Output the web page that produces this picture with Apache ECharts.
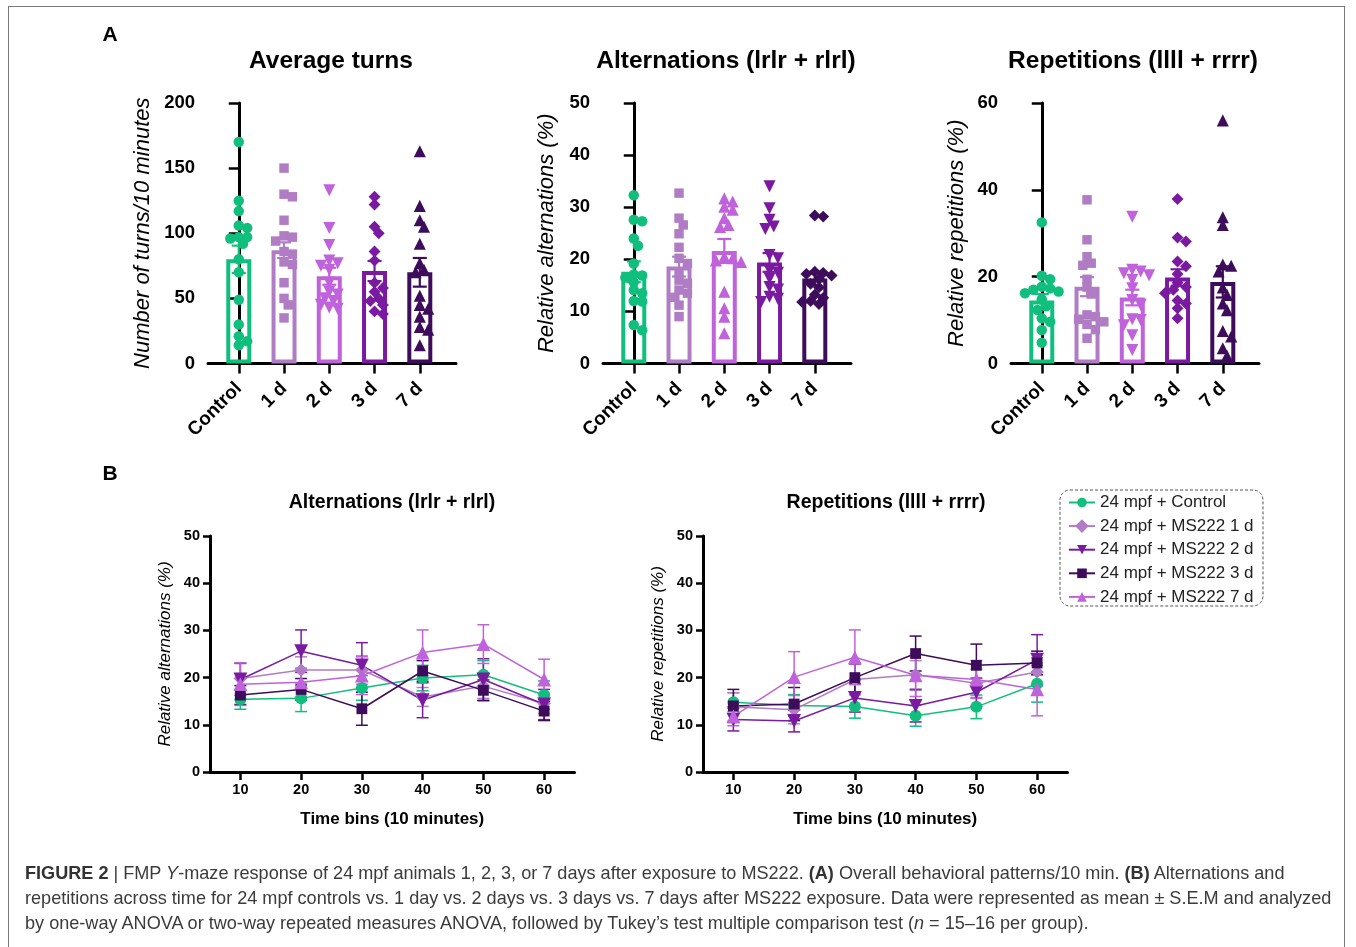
<!DOCTYPE html>
<html>
<head>
<meta charset="utf-8">
<script src="https://cdn.jsdelivr.net/npm/echarts@6/dist/echarts.min.js"></script>
<style>
  html, body { margin: 0; padding: 0; background: #fff; }
  #frame { position: absolute; left: 8px; top: 6px; width: 1337px; height: 1000px; border: 1px solid #7a7a7a; box-sizing: border-box; }
  #chart { position: absolute; left: 0; top: 0; width: 1356px; height: 947px; }
  #caption { position: absolute; left: 25px; top: 861px; font-family: "Liberation Sans", Arial, sans-serif; font-size: 18.1px; line-height: 25px; color: #3b3b3b; white-space: nowrap; }
  #caption b { color: #333; }
</style>
</head>
<body>
<div id="frame"></div>
<div id="chart"></div>
<div id="caption">
  <b>FIGURE 2</b> | FMP <i>Y</i>-maze response of 24 mpf animals 1, 2, 3, or 7 days after exposure to MS222. <b>(A)</b> Overall behavioral patterns/10 min. <b>(B)</b> Alternations and<br>
  repetitions across time for 24 mpf controls vs. 1 day vs. 2 days vs. 3 days vs. 7 days after MS222 exposure. Data were represented as mean ± S.E.M and analyzed<br>
  by one-way ANOVA or two-way repeated measures ANOVA, followed by Tukey’s test multiple comparison test (<i>n</i> = 15–16 per group).
</div>
<script>
// 分组
var groups = ['Control', '1 d', '2 d', '3 d', '7 d']

// A: Average turns
var turnsPoints = [
  [170, 125, 117, 106, 104, 97, 97, 96, 92, 80, 70, 49, 30, 21, 17, 14],
  [150, 130, 128, 110, 98, 97, 94, 86, 84, 78, 76, 62, 50, 45, 35],
  [133, 104, 91, 79, 77, 75, 72, 62, 55, 53, 50, 48, 45, 43, 42],
  [128, 122, 105, 100, 86, 79, 62, 58, 55, 50, 48, 45, 40, 38],
  [163, 121, 110, 105, 92, 77, 72, 70, 52, 45, 42, 36, 28, 26, 14]
]
var turnsMean = [80, 87, 67, 71, 70]
var turnsSem = [10.5, 6, 6.5, 7.7, 11]

// A: Alternations
var altPoints = [
  [32.3, 27.6, 27.3, 24, 22.6, 19.2, 17.1, 16.9, 16.5, 15.6, 14.1, 13.5, 12, 11.9, 7.4, 6.4],
  [32.7, 27.9, 26.6, 24.9, 22.3, 20.2, 19.2, 17.5, 16, 15.4, 14.1, 13.5, 12.7, 11.2, 9],
  [31.7, 31.1, 30.1, 29.5, 27.9, 26.6, 26.2, 20.5, 20.2, 19.8, 19.5, 13.8, 10.6, 9, 5.8],
  [34, 29.8, 27.6, 26.3, 25.8, 20.8, 20.2, 17.9, 17.4, 16.3, 14.7, 14.2, 12.8, 12.4, 11.8],
  [28.4, 28.2, 17.6, 17.4, 17.2, 16.9, 16.2, 15.3, 14.6, 13.2, 12.6, 12, 11.8, 11.4]
]
var altMean = [17.6, 18.6, 21.6, 19.4, 16.3]
var altSem = [2, 1.9, 2.3, 1.8, 1.3]

// A: Repetitions
var repPoints = [
  [32.5, 20.2, 19.4, 17.7, 17.3, 17, 16.6, 16.2, 14.8, 13.2, 12.3, 10.4, 9.6, 7.7, 4.8],
  [37.7, 28.5, 24.6, 23.1, 22.6, 19.4, 17.6, 16, 11.2, 10.8, 10.2, 9.6, 9, 7.8, 5.8],
  [33.8, 21.6, 21.2, 20.8, 20.3, 19.3, 17.3, 14.6, 13.5, 10.2, 10, 8.8, 6.5, 3.1],
  [37.9, 29, 28.1, 23.5, 22.4, 20.6, 18.6, 17.6, 17, 16.2, 14.5, 13.8, 12.7, 10.4],
  [56, 33.7, 31.9, 22.8, 22.5, 21.2, 17.5, 15.8, 13.8, 12.3, 7.5, 6.2, 3.5, 1.8]
]
var repMean = [14.5, 17.7, 15.2, 19.8, 18.8]
var repSem = [1.5, 2.2, 1.8, 1.9, 3.6]

// B: 时间序列
var timeBins = [10, 20, 30, 40, 50, 60]
var seriesNamesB = ['24 mpf + Control', '24 mpf + MS222 1 d', '24 mpf + MS222 2 d', '24 mpf + MS222 3 d', '24 mpf + MS222 7 d']
var altTimeMean = [
  [15.4, 15.6, 17.8, 19.9, 20.6, 16.3],
  [19.8, 21.6, 21.6, 15.9, 18.2, 14.5],
  [19.6, 25.6, 22.6, 15.2, 19.6, 14.3],
  [16.3, 17.5, 13.4, 21.4, 17.3, 12.9],
  [18.6, 19.0, 20.4, 25.3, 27.1, 19.6]
]
var altTimeSem = [
  [2.1, 2.8, 2.6, 2.7, 3.0, 3.0],
  [3.3, 2.8, 3.0, 2.0, 2.6, 2.1],
  [3.4, 4.5, 4.8, 3.7, 4.4, 3.2],
  [2.0, 2.3, 3.5, 2.2, 2.2, 2.0],
  [4.5, 3.0, 4.0, 4.8, 4.1, 4.3]
]
var repTimeMean = [
  [14.8, 14.1, 13.9, 11.9, 13.8, 18.7],
  [13.8, 13.2, 19.6, 20.6, 18.8, 21.2],
  [11.1, 10.8, 15.7, 14.0, 16.9, 23.8],
  [14.0, 14.4, 20.0, 25.1, 22.6, 23.1],
  [11.8, 20.1, 24.3, 20.5, 19.6, 17.5]
]
var repTimeSem = [
  [2.0, 2.3, 2.5, 2.2, 2.5, 3.9],
  [3.0, 3.0, 3.2, 3.0, 3.0, 3.0],
  [2.4, 2.3, 3.0, 3.4, 3.0, 5.3],
  [3.5, 3.5, 3.0, 3.7, 4.5, 2.5],
  [2.0, 5.4, 5.8, 4.5, 4.0, 5.6]
]

var FONT = '"Liberation Sans", Arial, sans-serif'
var colorsA = ['#10bf7d', '#b07cc4', '#c062dc', '#7a1aa0', '#3d0c5a']
var colorsB = ['#10bf7d', '#b07cc4', '#7a1aa0', '#3d0c5a', '#c062dc']
var marksA1 = ['circle', 'rect', 'triangle-down', 'diamond', 'triangle']
var marksA2 = ['circle', 'rect', 'triangle', 'triangle-down', 'diamond']
var marksB = ['circle', 'diamond', 'triangle-down', 'rect', 'triangle']

// 标记形状
function markStyle(name, size) {
  if (name === 'diamond') return { symbol: 'rect', symbolRotate: 45, symbolSize: size * 0.8 }
  if (name === 'triangle-down') return { symbol: 'triangle', symbolRotate: 180, symbolSize: size * 1.15 }
  if (name === 'triangle') return { symbol: 'triangle', symbolRotate: 0, symbolSize: size * 1.15 }
  if (name === 'rect') return { symbol: 'rect', symbolRotate: 0, symbolSize: size * 0.9 }
  return { symbol: 'circle', symbolRotate: 0, symbolSize: size }
}

// 误差线
function errorBar(color, cap, width) {
  return function (params, api) {
    var x = api.value(0), m = api.value(1), e = api.value(2)
    var hi = api.coord([x, m + e]), lo = api.coord([x, m - e])
    var st = { stroke: color, lineWidth: width }
    return {
      type: 'group',
      children: [
        { type: 'line', shape: { x1: hi[0], y1: hi[1], x2: lo[0], y2: lo[1] }, style: st },
        { type: 'line', shape: { x1: hi[0] - cap, y1: hi[1], x2: hi[0] + cap, y2: hi[1] }, style: st },
        { type: 'line', shape: { x1: lo[0] - cap, y1: lo[1], x2: lo[0] + cap, y2: lo[1] }, style: st }
      ]
    }
  }
}

// 散点横向错开 (beeswarm)
function swarm(values, ppuY, ppuX, size) {
  var placed = []
  var offs = new Array(values.length)
  var order = values.map(function (v, i) { return i }).sort(function (a, b) { return values[b] - values[a] })
  order.forEach(function (i) {
    var py = values[i] * ppuY
    var step = size * 0.42
    var dx = 0
    for (var k = 0; k < 40; k++) {
      dx = (k % 2 ? 1 : -1) * Math.ceil(k / 2) * step
      var ok = placed.every(function (p) {
        var ddx = p[0] - dx, ddy = p[1] - py
        return ddx * ddx + ddy * ddy >= size * size * 0.55
      })
      if (ok) break
    }
    placed.push([dx, py])
    offs[i] = dx / ppuX
  })
  return offs
}

var grids = [], xAxes = [], yAxes = [], series = []
var axisBlack = { color: '#000', width: 3 }

var panelA = [
  { left: 208, yMax: 200, yStep: 50, yName: 'Number of turns/10 minutes', nameGap: 54, points: turnsPoints, mean: turnsMean, sem: turnsSem, marks: marksA1 },
  { left: 603, yMax: 50, yStep: 10, yName: 'Relative alternations (%)', nameGap: 45, points: altPoints, mean: altMean, sem: altSem, marks: marksA2 },
  { left: 1011, yMax: 60, yStep: 20, yName: 'Relative repetitions (%)', nameGap: 43, points: repPoints, mean: repMean, sem: repSem, marks: marksA1 }
]
var AX_MIN = -0.68, AX_MAX = 4.8, A_W = 248, A_H = 260.5

panelA.forEach(function (p, gi) {
  grids.push({ left: p.left, top: 103, width: A_W, height: A_H })
  xAxes.push({
    type: 'value', gridIndex: gi, min: AX_MIN, max: AX_MAX,
    axisLine: { show: true, onZero: false, lineStyle: axisBlack },
    axisTick: { show: true, customValues: [0, 1, 2, 3, 4], length: 10, lineStyle: { color: '#000', width: 2.5 } },
    axisLabel: {
      customValues: [0, 1, 2, 3, 4], rotate: 45, margin: 22,
      formatter: function (v) { return groups[Math.round(v)] },
      fontFamily: FONT, fontWeight: 'bold', fontSize: 19, color: '#000'
    },
    splitLine: { show: false }
  })
  yAxes.push({
    type: 'value', gridIndex: gi, min: 0, max: p.yMax, interval: p.yStep,
    name: p.yName, nameLocation: 'middle', nameGap: p.nameGap, nameRotate: 90,
    nameTextStyle: { fontFamily: FONT, fontStyle: 'italic', fontSize: 22, color: '#000' },
    axisLine: { show: true, lineStyle: axisBlack },
    axisTick: { show: true, length: 10, lineStyle: { color: '#000', width: 2.5 } },
    axisLabel: { margin: 13, fontFamily: FONT, fontWeight: 'bold', fontSize: 18.5, color: '#000' },
    splitLine: { show: false }
  })
  // 柱子 (空心)
  series.push({
    type: 'bar', xAxisIndex: gi, yAxisIndex: gi, barWidth: 25, z: 2,
    itemStyle: { color: 'rgba(255,255,255,0)', borderWidth: 4 },
    data: p.mean.map(function (m, k) {
      return { value: [k, m], itemStyle: { borderColor: colorsA[k] } }
    })
  })
  var ppuY = A_H / p.yMax, ppuX = A_W / (AX_MAX - AX_MIN)
  p.points.forEach(function (vals, k) {
    var ms = markStyle(p.marks[k], 10.5)
    var offs = swarm(vals, ppuY, ppuX, 10)
    series.push({
      type: 'scatter', xAxisIndex: gi, yAxisIndex: gi, z: 3,
      symbol: ms.symbol, symbolRotate: ms.symbolRotate, symbolSize: ms.symbolSize,
      itemStyle: { color: colorsA[k], opacity: 1 },
      data: vals.map(function (v, i) { return [k + offs[i], v] })
    })
  })
  p.mean.forEach(function (m, k) {
    series.push({
      type: 'custom', xAxisIndex: gi, yAxisIndex: gi, z: 4,
      renderItem: errorBar(colorsA[k], 7, 2.2),
      encode: { x: 0, y: 1 },
      data: [[k, m, p.sem[k]]]
    })
  })
})

var panelB = [
  { left: 210, yName: 'Relative alternations (%)', mean: altTimeMean, sem: altTimeSem },
  { left: 703, yName: 'Relative repetitions (%)', mean: repTimeMean, sem: repTimeSem }
]
panelB.forEach(function (p, bi) {
  var gi = 3 + bi
  grids.push({ left: p.left, top: 536, width: 364.5, height: 236 })
  xAxes.push({
    type: 'value', gridIndex: gi, min: 5, max: 65,
    name: 'Time bins (10 minutes)', nameLocation: 'middle', nameGap: 39,
    nameTextStyle: { fontFamily: FONT, fontWeight: 'bold', fontSize: 17, color: '#000' },
    axisLine: { show: true, onZero: false, lineStyle: axisBlack },
    axisTick: { show: true, customValues: timeBins, length: 8, lineStyle: { color: '#000', width: 2.5 } },
    axisLabel: { customValues: timeBins, margin: 10, fontFamily: FONT, fontWeight: 'bold', fontSize: 14.5, color: '#000' },
    splitLine: { show: false }
  })
  yAxes.push({
    type: 'value', gridIndex: gi, min: 0, max: 50, interval: 10,
    name: p.yName, nameLocation: 'middle', nameGap: 36, nameRotate: 90,
    nameTextStyle: { fontFamily: FONT, fontStyle: 'italic', fontSize: 17, color: '#000' },
    axisLine: { show: true, lineStyle: axisBlack },
    axisTick: { show: true, length: 7, lineStyle: { color: '#000', width: 2.5 } },
    axisLabel: { margin: 10, fontFamily: FONT, fontWeight: 'bold', fontSize: 14.5, color: '#000' },
    splitLine: { show: false }
  })
  seriesNamesB.forEach(function (name, k) {
    var ms = markStyle(marksB[k], 12)
    series.push({
      type: 'line', name: name, xAxisIndex: gi, yAxisIndex: gi, z: 4,
      symbol: ms.symbol, symbolRotate: ms.symbolRotate, symbolSize: ms.symbolSize,
      lineStyle: { color: colorsB[k], width: 1.5 },
      itemStyle: { color: colorsB[k], opacity: 1 },
      data: timeBins.map(function (t, j) { return [t, p.mean[k][j]] })
    })
    series.push({
      type: 'custom', xAxisIndex: gi, yAxisIndex: gi, z: 3,
      renderItem: errorBar(colorsB[k], 6, 1.5),
      encode: { x: 0, y: 1 },
      data: timeBins.map(function (t, j) { return [t, p.mean[k][j], p.sem[k][j]] })
    })
  })
})

function label(text, x, y, size, weight) {
  return {
    type: 'text', x: x, y: y,
    style: { text: text, font: weight + ' ' + size + 'px ' + FONT, fill: '#000', textAlign: 'center', align: 'center', textVerticalAlign: 'middle', verticalAlign: 'middle' }
  }
}

var option = {
  animation: false,
  grid: grids,
  xAxis: xAxes,
  yAxis: yAxes,
  series: series,
  legend: {
    data: seriesNamesB,
    orient: 'vertical', left: 1063, top: 489,
    itemWidth: 26, itemHeight: 12, itemGap: 6.6,
    textStyle: { fontFamily: FONT, fontSize: 17, color: '#222' },
    selectedMode: false
  },
  graphic: [
    label('A', 110, 35, 21, 'bold'),
    label('B', 110, 474, 21, 'bold'),
    label('Average turns', 331, 61, 24.5, 'bold'),
    label('Alternations (lrlr + rlrl)', 726, 61, 24.5, 'bold'),
    label('Repetitions (llll + rrrr)', 1133, 61, 24.5, 'bold'),
    label('Alternations (lrlr + rlrl)', 392, 503, 19.5, 'bold'),
    label('Repetitions (llll + rrrr)', 886, 503, 19.5, 'bold'),
    {
      type: 'rect', shape: { x: 1060, y: 490, width: 203, height: 116, r: 10 },
      style: { fill: 'none', stroke: '#555', lineWidth: 1, lineDash: [3, 2] }
    }
  ]
}

var myChart = echarts.init(document.getElementById('chart'))
myChart.setOption(option)
window.addEventListener('resize', function () {
  myChart.resize()
})
</script>
</body>
</html>
